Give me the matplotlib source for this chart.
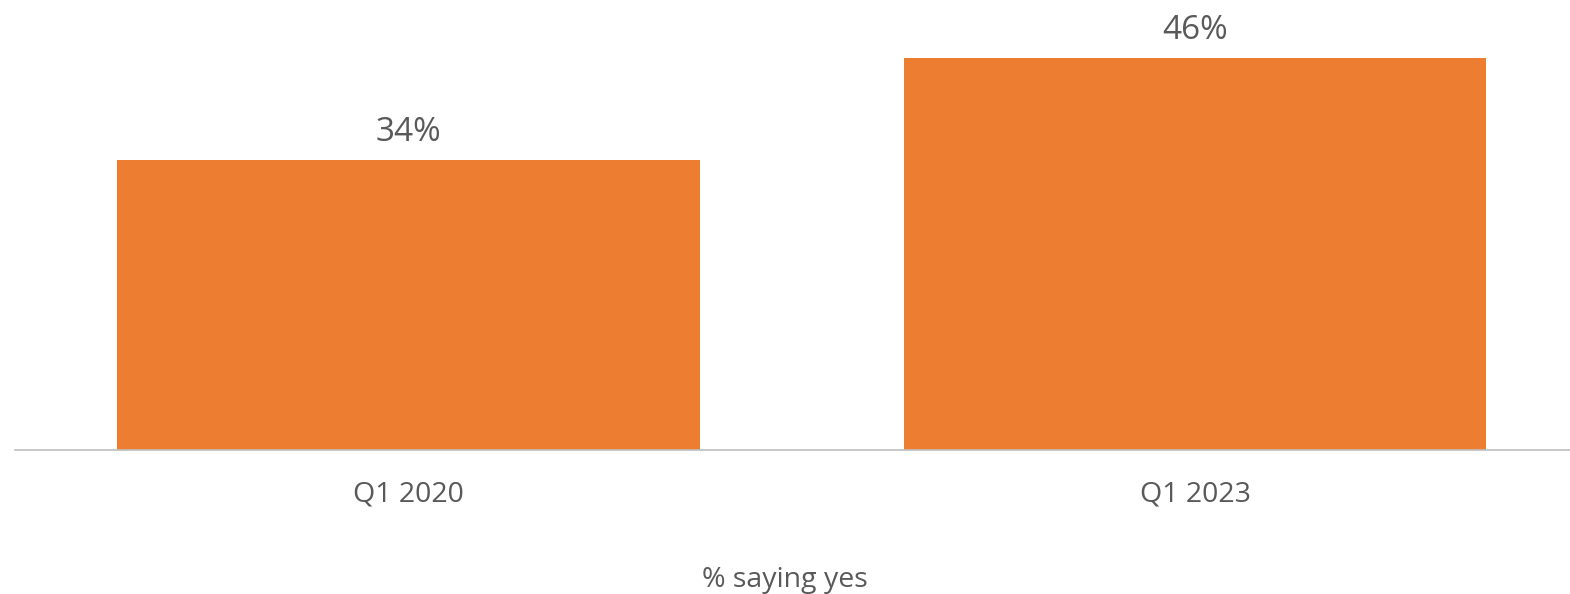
import matplotlib
matplotlib.use("Agg")
import matplotlib.pyplot as plt

categories = ["Q1 2020", "Q1 2023"]
values = [34, 46]
value_labels = ["34%", "46%"]
xlabel = "% saying yes"

W, H = 1570, 594
plt.rcParams['font.family'] = ['Open Sans', 'DejaVu Sans']
fig = plt.figure(figsize=(W / 100, H / 100), dpi=100)

px_per_unit = 8.525
base_y = 450
ymax = 50
ax_left, ax_right = 15, 1570
ax = fig.add_axes([ax_left / W, (H - base_y) / H, (ax_right - ax_left) / W, ymax * px_per_unit / H])

c0, step = 408.5, 786.5
ax.set_xlim((ax_left - c0) / step, (ax_right - c0) / step)
ax.set_ylim(0, ymax)

x = list(range(len(categories)))
bars = ax.bar(x, values, width=582 / step, color="#ED7D31", zorder=2)
for xi, v, lab in zip(x, values, value_labels):
    ax.annotate(lab, (xi, v), xytext=(0, 8), textcoords="offset points",
                ha="center", va="bottom", fontsize=24, color="#595959")

for s in ["top", "right", "left"]:
    ax.spines[s].set_visible(False)
ax.spines["bottom"].set_color("#BFBFBF")
ax.spines["bottom"].set_linewidth(1.2)
ax.set_yticks([])
ax.set_xticks(x)
ax.set_xticklabels(categories, fontsize=20.5, color="#595959")
ax.tick_params(axis="x", length=0, pad=22)
ax.set_xlabel(xlabel, fontsize=20.5, color="#595959")
ax.xaxis.set_label_coords((785 - ax_left) / (ax_right - ax_left), -(566 - base_y) / (ymax * px_per_unit))

fig.savefig("out.png", dpi=100)
